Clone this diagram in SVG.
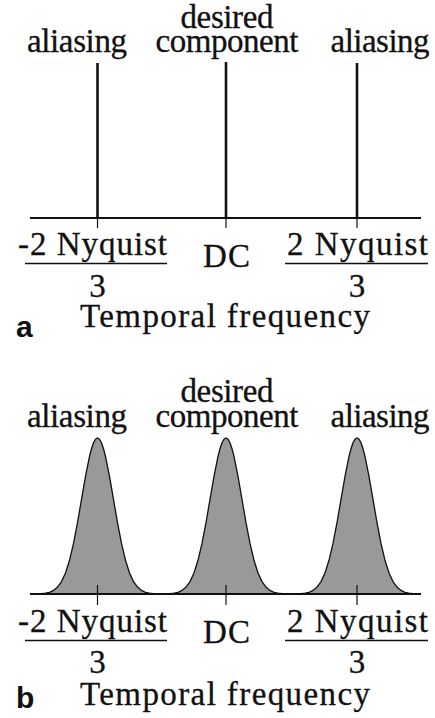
<svg xmlns="http://www.w3.org/2000/svg" xmlns:xlink="http://www.w3.org/1999/xlink" width="435" height="718" viewBox="0 0 435 718">
<style>
.t{font-family:"Liberation Serif","Times New Roman",Times,"DejaVu Serif","Noto Serif",serif;font-size:33px;fill:#111;stroke:#111;stroke-width:0.3}
.m{text-anchor:middle}
.lbl{font-family:"Liberation Sans",Arial,"DejaVu Sans",sans-serif;font-size:30px;font-weight:bold;fill:#111}
.ax{stroke:#111;stroke-width:2;fill:none}
.tick{stroke:#111;stroke-width:1.2;fill:none}
.spike{stroke:#111;stroke-width:2.6;fill:none}
.ul{stroke:#111;stroke-width:1.5}
.peak{fill:#999;stroke:#111;stroke-width:1.3}
</style>
<defs>
<path id="gauss" d="M-60,0 L-56,-0.3 L-52,-0.8 L-48,-1.7 L-44,-3.6 L-40,-6.9 L-36,-12.4 L-32,-21.1 L-28,-33.7 L-24,-50.6 L-20,-71.4 L-16,-94.6 L-12,-117.7 L-8,-137.7 L-6,-145.2 L-4,-151.2 L-2,-154.8 L0,-156 L2,-154.8 L4,-151.2 L6,-145.2 L8,-137.7 L12,-117.7 L16,-94.6 L20,-71.4 L24,-50.6 L28,-33.7 L32,-21.1 L36,-12.4 L40,-6.9 L44,-3.6 L48,-1.7 L52,-0.8 L56,-0.3 L60,0"/>
</defs>

<!-- Panel a -->
<g id="panel-a">
  <g id="a-labels-top">
    <text class="t m" x="77" y="52" textLength="100">aliasing</text>
    <text class="t m" x="227" y="28" textLength="93">desired</text>
    <text class="t m" x="227" y="52" textLength="143">component</text>
    <text class="t m" x="380" y="52" textLength="99">aliasing</text>
  </g>
  <g id="a-axis">
    <line class="ax" x1="30" y1="218" x2="421" y2="218"/>
    <line class="tick" x1="97.5" y1="218" x2="97.5" y2="228"/>
    <line class="tick" x1="226" y1="218" x2="226" y2="228"/>
    <line class="tick" x1="357" y1="218" x2="357" y2="228"/>
  </g>
  <g id="a-spikes">
    <line class="spike" x1="97.5" y1="63" x2="97.5" y2="218"/>
    <line class="spike" x1="226" y1="62" x2="226" y2="218"/>
    <line class="spike" x1="357" y1="63" x2="357" y2="218"/>
  </g>
  <g id="a-labels-bottom">
    <text class="t" x="18" y="255" textLength="149">-2 Nyquist</text>
    <line class="ul" x1="25" y1="263.5" x2="167" y2="263.5"/>
    <text class="t m" x="97.5" y="297">3</text>
    <text class="t m" x="226.5" y="267" textLength="47">DC</text>
    <text class="t" x="287" y="255" textLength="141">2 Nyquist</text>
    <line class="ul" x1="285" y1="263.5" x2="428" y2="263.5"/>
    <text class="t m" x="357" y="297">3</text>
    <text class="t" x="80" y="327" textLength="290">Temporal frequency</text>
    <text class="lbl" x="16" y="337">a</text>
  </g>
</g>

<!-- Panel b -->
<g id="panel-b">
  <g id="b-labels-top">
    <text class="t m" x="77" y="427" textLength="100">aliasing</text>
    <text class="t m" x="227" y="402" textLength="93">desired</text>
    <text class="t m" x="227" y="427" textLength="143">component</text>
    <text class="t m" x="380" y="427" textLength="99">aliasing</text>
  </g>
  <g id="b-peaks">
    <use href="#gauss" xlink:href="#gauss" class="peak" transform="translate(97.5,594)"/>
    <use href="#gauss" xlink:href="#gauss" class="peak" transform="translate(226,594)"/>
    <use href="#gauss" xlink:href="#gauss" class="peak" transform="translate(357,594)"/>
  </g>
  <g id="b-axis">
    <line class="ax" x1="30" y1="594" x2="421" y2="594"/>
    <line class="tick" x1="97.5" y1="585" x2="97.5" y2="605"/>
    <line class="tick" x1="226" y1="585" x2="226" y2="605"/>
    <line class="tick" x1="357" y1="585" x2="357" y2="605"/>
  </g>
  <g id="b-labels-bottom">
    <text class="t" x="18" y="632" textLength="149">-2 Nyquist</text>
    <line class="ul" x1="25" y1="640.5" x2="167" y2="640.5"/>
    <text class="t m" x="97.5" y="673">3</text>
    <text class="t m" x="226.5" y="643" textLength="47">DC</text>
    <text class="t" x="287" y="632" textLength="141">2 Nyquist</text>
    <line class="ul" x1="285" y1="640.5" x2="428" y2="640.5"/>
    <text class="t m" x="357" y="673">3</text>
    <text class="t" x="80" y="705" textLength="290">Temporal frequency</text>
    <text class="lbl" x="16" y="708">b</text>
  </g>
</g>
</svg>
